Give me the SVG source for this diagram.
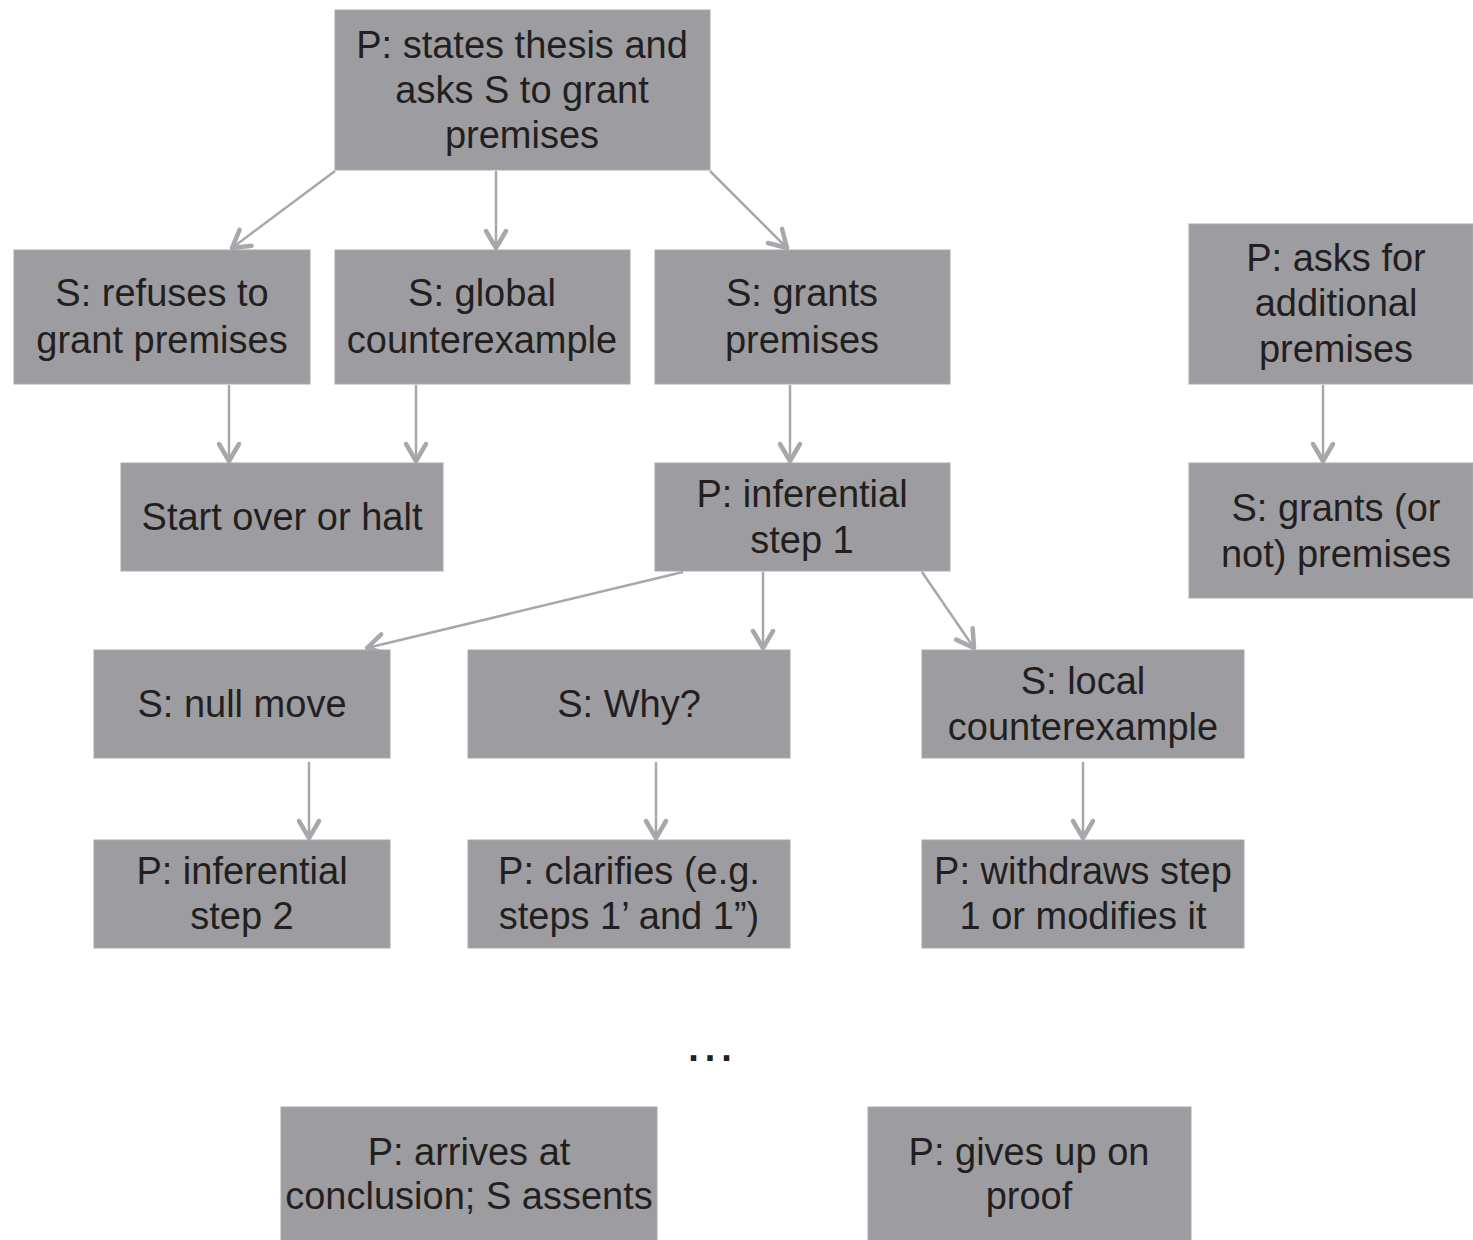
<svg xmlns="http://www.w3.org/2000/svg" width="1473" height="1240" viewBox="0 0 1473 1240">
  <style>
    .box { fill: #9d9da1; stroke: #a9a9ac; stroke-width: 1; }
    .lbl { font-family: "Liberation Sans", Arial, Helvetica, sans-serif; font-size: 38px; fill: #231f20; text-anchor: middle; }
    .edge { fill: none; stroke: #a8a8ab; stroke-width: 2.5; marker-end: url(#arr); }
  </style>
  <defs>
    <marker id="arr" markerUnits="userSpaceOnUse" viewBox="-22 -14 26 28" refX="0" refY="0" markerWidth="26" markerHeight="28" orient="auto" overflow="visible">
      <path d="M-17,-10 L0,0 L-17,10" fill="none" stroke="#a8a8ab" stroke-width="4.5" stroke-linecap="round" stroke-linejoin="round"/>
    </marker>
  </defs>
  <rect width="1473" height="1240" fill="#ffffff"/>

  <g id="connectors">
    <line class="edge" x1="335" y1="171" x2="232" y2="248"/>
    <line class="edge" x1="496" y1="171" x2="496" y2="248"/>
    <line class="edge" x1="710" y1="171" x2="787" y2="248"/>
    <line class="edge" x1="229" y1="385" x2="229" y2="461"/>
    <line class="edge" x1="416" y1="385" x2="416" y2="461"/>
    <line class="edge" x1="790" y1="385" x2="790" y2="461"/>
    <line class="edge" x1="1323" y1="385" x2="1323" y2="461"/>
    <line class="edge" x1="683" y1="572" x2="367" y2="648"/>
    <line class="edge" x1="763" y1="572" x2="763" y2="648"/>
    <line class="edge" x1="922" y1="572" x2="974" y2="648"/>
    <line class="edge" x1="309" y1="762" x2="309" y2="838"/>
    <line class="edge" x1="656" y1="762" x2="656" y2="838"/>
    <line class="edge" x1="1083" y1="762" x2="1083" y2="838"/>
  </g>

  <g id="n-thesis">
    <rect class="box" x="335" y="10" width="375" height="160"/>
    <text class="lbl" x="522" y="58">P: states thesis and</text>
    <text class="lbl" x="522" y="103">asks S to grant</text>
    <text class="lbl" x="522" y="148">premises</text>
  </g>
  <g id="n-refuses">
    <rect class="box" x="14" y="250" width="296" height="134"/>
    <text class="lbl" x="162" y="306">S: refuses to</text>
    <text class="lbl" x="162" y="353">grant premises</text>
  </g>
  <g id="n-global">
    <rect class="box" x="335" y="250" width="295" height="134"/>
    <text class="lbl" x="482" y="306">S: global</text>
    <text class="lbl" x="482" y="353">counterexample</text>
  </g>
  <g id="n-grants">
    <rect class="box" x="655" y="250" width="295" height="134"/>
    <text class="lbl" x="802" y="306">S: grants</text>
    <text class="lbl" x="802" y="353">premises</text>
  </g>
  <g id="n-asks">
    <rect class="box" x="1189" y="224" width="284" height="160"/>
    <text class="lbl" x="1336" y="271">P: asks for</text>
    <text class="lbl" x="1336" y="316">additional</text>
    <text class="lbl" x="1336" y="362">premises</text>
  </g>
  <g id="n-start">
    <rect class="box" x="121" y="463" width="322" height="108"/>
    <text class="lbl" x="282" y="530">Start over or halt</text>
  </g>
  <g id="n-step1">
    <rect class="box" x="655" y="463" width="295" height="108"/>
    <text class="lbl" x="802" y="507">P: inferential</text>
    <text class="lbl" x="802" y="553">step 1</text>
  </g>
  <g id="n-grantsornot">
    <rect class="box" x="1189" y="463" width="284" height="135"/>
    <text class="lbl" x="1336" y="521">S: grants (or</text>
    <text class="lbl" x="1336" y="567">not) premises</text>
  </g>
  <g id="n-null">
    <rect class="box" x="94" y="650" width="296" height="108"/>
    <text class="lbl" x="242" y="717">S: null move</text>
  </g>
  <g id="n-why">
    <rect class="box" x="468" y="650" width="322" height="108"/>
    <text class="lbl" x="629" y="717">S: Why?</text>
  </g>
  <g id="n-local">
    <rect class="box" x="922" y="650" width="322" height="108"/>
    <text class="lbl" x="1083" y="694">S: local</text>
    <text class="lbl" x="1083" y="740">counterexample</text>
  </g>
  <g id="n-step2">
    <rect class="box" x="94" y="840" width="296" height="108"/>
    <text class="lbl" x="242" y="884">P: inferential</text>
    <text class="lbl" x="242" y="929">step 2</text>
  </g>
  <g id="n-clarifies">
    <rect class="box" x="468" y="840" width="322" height="108"/>
    <text class="lbl" x="629" y="884">P: clarifies (e.g.</text>
    <text class="lbl" x="629" y="929">steps 1’ and 1”)</text>
  </g>
  <g id="n-withdraws">
    <rect class="box" x="922" y="840" width="322" height="108"/>
    <text class="lbl" x="1083" y="884">P: withdraws step</text>
    <text class="lbl" x="1083" y="929">1 or modifies it</text>
  </g>
  <g id="n-ellipsis">
    <text class="lbl" x="713" y="1061" style="font-weight:bold;letter-spacing:6px">...</text>
  </g>
  <g id="n-arrives">
    <rect class="box" x="281" y="1107" width="376" height="140"/>
    <text class="lbl" x="469" y="1165">P: arrives at</text>
    <text class="lbl" x="469" y="1209">conclusion; S assents</text>
  </g>
  <g id="n-givesup">
    <rect class="box" x="868" y="1107" width="323" height="140"/>
    <text class="lbl" x="1029" y="1165">P: gives up on</text>
    <text class="lbl" x="1029" y="1209">proof</text>
  </g>
</svg>
